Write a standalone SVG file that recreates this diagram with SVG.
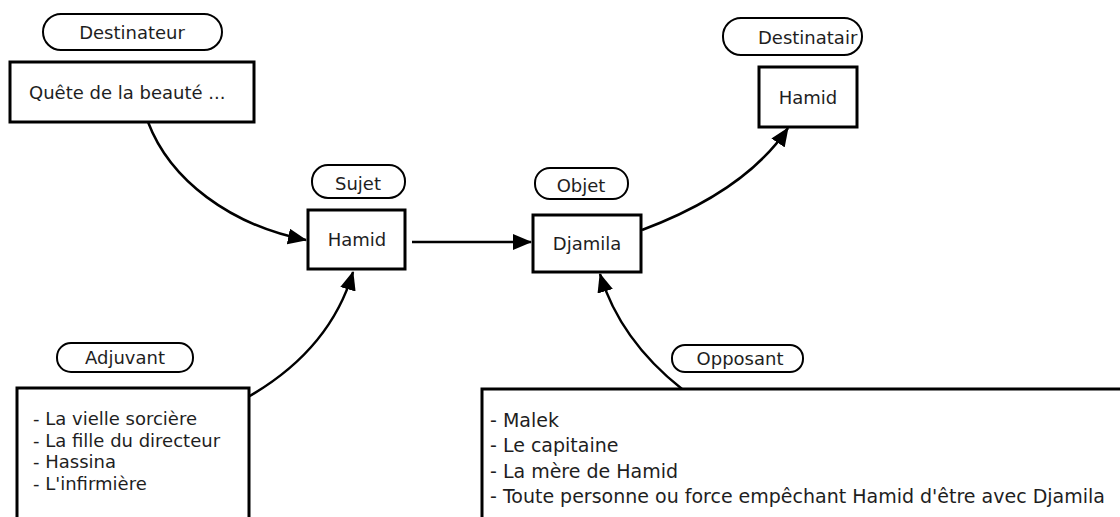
<svg xmlns="http://www.w3.org/2000/svg" width="1120" height="517" viewBox="0 0 1120 517">
  <style>
    .bg { fill: #ffffff; }
    .pill { fill: #ffffff; stroke: #000000; stroke-width: 2; }
    .box { fill: #ffffff; stroke: #000000; stroke-width: 3; }
    .lbl { font-family: "DejaVu Sans", Verdana, sans-serif; font-size: 18px; fill: #1e1e1e; }
    .list { font-family: "DejaVu Sans", Verdana, sans-serif; font-size: 18px; fill: #1e1e1e; }
    .wide { font-size: 19px; }
    .link { fill: none; stroke: #000000; stroke-width: 2.5; marker-end: url(#arrow); }
  </style>
  <defs>
    <marker id="arrow" viewBox="0 0 19 16" refX="18" refY="8" markerWidth="19" markerHeight="16" markerUnits="userSpaceOnUse" orient="auto">
      <path d="M0,0 L19,8 L0,16 Z" fill="#000000"/>
    </marker>
  </defs>
  <rect class="bg" x="0" y="0" width="1120" height="517"/>

  <!-- connectors -->
  <g id="connectors">
    <path class="link" d="M148,122 C170,180 230,225 306,240"/>
    <path class="link" d="M412,242 L531,242"/>
    <path class="link" d="M642,230 C690,212 752,182 788,128"/>
    <path class="link" d="M248,397 Q330,350 353,272"/>
    <path class="link" d="M682,389 Q620,340 600,274"/>
  </g>

  <!-- Destinateur -->
  <g id="destinateur">
    <rect class="pill" x="43" y="14" width="179" height="36" rx="18" ry="18"/>
    <text class="lbl" x="132" y="39" text-anchor="middle">Destinateur</text>
    <rect class="box" x="10" y="62" width="244" height="60"/>
    <text class="lbl" x="29" y="99">Quête de la beauté ...</text>
  </g>

  <!-- Sujet -->
  <g id="sujet">
    <rect class="pill" x="312" y="165" width="93" height="33" rx="16" ry="16"/>
    <text class="lbl" x="358" y="190" text-anchor="middle">Sujet</text>
    <rect class="box" x="308" y="210" width="97" height="59"/>
    <text class="lbl" x="357" y="246" text-anchor="middle">Hamid</text>
  </g>

  <!-- Objet -->
  <g id="objet">
    <rect class="pill" x="535" y="168" width="93" height="31" rx="15" ry="15"/>
    <text class="lbl" x="581" y="192" text-anchor="middle">Objet</text>
    <rect class="box" x="533" y="215" width="108" height="57"/>
    <text class="lbl" x="587" y="250" text-anchor="middle">Djamila</text>
  </g>

  <!-- Destinataire -->
  <g id="destinataire">
    <rect class="pill" x="723" y="18" width="139" height="37" rx="18" ry="18"/>
    <text class="lbl" x="758" y="44">Destinatair</text>
    <rect class="box" x="759" y="67" width="98" height="60"/>
    <text class="lbl" x="808" y="104" text-anchor="middle">Hamid</text>
  </g>

  <!-- Adjuvant -->
  <g id="adjuvant">
    <rect class="pill" x="57" y="343" width="136" height="29" rx="14" ry="14"/>
    <text class="lbl" x="125" y="364" text-anchor="middle">Adjuvant</text>
    <rect class="box" x="17" y="388" width="232" height="140"/>
    <text class="list" x="33" y="425">- La vielle sorcière</text>
    <text class="list" x="33" y="447">- La fille du directeur</text>
    <text class="list" x="33" y="468">- Hassina</text>
    <text class="list" x="33" y="490">- L'infirmière</text>
  </g>

  <!-- Opposant -->
  <g id="opposant">
    <rect class="pill" x="672" y="345" width="131" height="27" rx="13" ry="13"/>
    <text class="lbl" x="740" y="365" text-anchor="middle">Opposant</text>
    <rect class="box" x="482" y="389" width="650" height="140"/>
    <text class="list wide" x="490" y="427">- Malek</text>
    <text class="list wide" x="490" y="452">- Le capitaine</text>
    <text class="list wide" x="490" y="478">- La mère de Hamid</text>
    <text class="list wide" x="490" y="503">- Toute personne ou force empêchant Hamid d'être avec Djamila</text>
  </g>
</svg>
